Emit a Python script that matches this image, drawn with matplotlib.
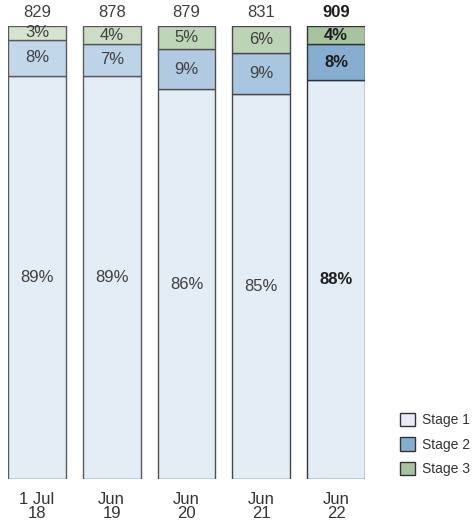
import matplotlib
matplotlib.use("Agg")
import matplotlib.pyplot as plt
from matplotlib.patches import Patch

plt.rcParams["font.family"] = ["Liberation Sans", "DejaVu Sans"]

# share of portfolio by stage, per reporting date
periods = ["1 Jul\n18", "Jun\n19", "Jun\n20", "Jun\n21", "Jun\n22"]
totals = [829, 878, 879, 831, 909]
stage1 = [89, 89, 86, 85, 88]
stage2 = [8, 7, 9, 9, 8]
stage3 = [3, 4, 5, 6, 4]

# older periods are drawn faded, latest period in full colour
s1_colors = ["#e4ecf5", "#e4ecf5", "#e4ecf5", "#e4ecf5", "#e4ecf5"]
s2_colors = ["#c3d7ea", "#bcd3e8", "#b1cae2", "#a9c6e0", "#86aed1"]
s3_colors = ["#d6e3d0", "#ccdcc5", "#bed5b8", "#bcd3b5", "#a6c59e"]
edge_colors = ["#5a5a5a", "#5a5a5a", "#505050", "#484848", "#333333"]
text_colors = ["#404040", "#404040", "#404040", "#404040", "#1e1e1e"]
weights = ["normal", "normal", "normal", "normal", "bold"]

fig = plt.figure(figsize=(4.73, 5.24), dpi=100)
ax = fig.add_axes([8 / 473, 1 - 479 / 524, 357 / 473, 453 / 524])

width = 0.773
x = range(len(periods))
for i in x:
    ec = edge_colors[i]
    ax.bar(i, stage1[i], width, color=s1_colors[i], edgecolor=ec, linewidth=1)
    ax.bar(i, stage2[i], width, bottom=stage1[i], color=s2_colors[i], edgecolor=ec, linewidth=1)
    ax.bar(i, stage3[i], width, bottom=stage1[i] + stage2[i], color=s3_colors[i], edgecolor=ec, linewidth=1)

    kw = dict(ha="center", va="center", color=text_colors[i], fontweight=weights[i], fontsize=12)
    ax.text(i, stage1[i] / 2, f"{stage1[i]}%", **kw)
    ax.text(i, stage1[i] + stage2[i] / 2, f"{stage2[i]}%", **kw)
    ax.text(i, stage1[i] + stage2[i] + stage3[i] / 2, f"{stage3[i]}%", **kw)
    ax.text(i, 100 + 1.3, str(totals[i]), ha="center", va="bottom",
            color=text_colors[i], fontweight=weights[i], fontsize=12)

ax.set_xlim(-width / 2, len(periods) - 1 + width / 2)
ax.set_ylim(0, 100)
ax.set_xticks(list(x))
ax.set_xticklabels(periods, fontsize=12, color="#333333", linespacing=1.0)
ax.tick_params(axis="x", length=0, pad=9)
ax.set_yticks([])
for s in ax.spines.values():
    s.set_visible(False)

handles = [
    Patch(facecolor="#e4ecf5", edgecolor="#333333", label="Stage 1"),
    Patch(facecolor="#86aed1", edgecolor="#333333", label="Stage 2"),
    Patch(facecolor="#a6c59e", edgecolor="#333333", label="Stage 3"),
]
fig.legend(handles=handles, loc="lower left", bbox_to_anchor=(394 / 473, 42 / 524),
           frameon=False, fontsize=10, handlelength=1.08, handleheight=1.08,
           handletextpad=0.5, labelspacing=0.75, borderaxespad=0,
           labelcolor="#333333")

fig.savefig("out.png", dpi=100)
